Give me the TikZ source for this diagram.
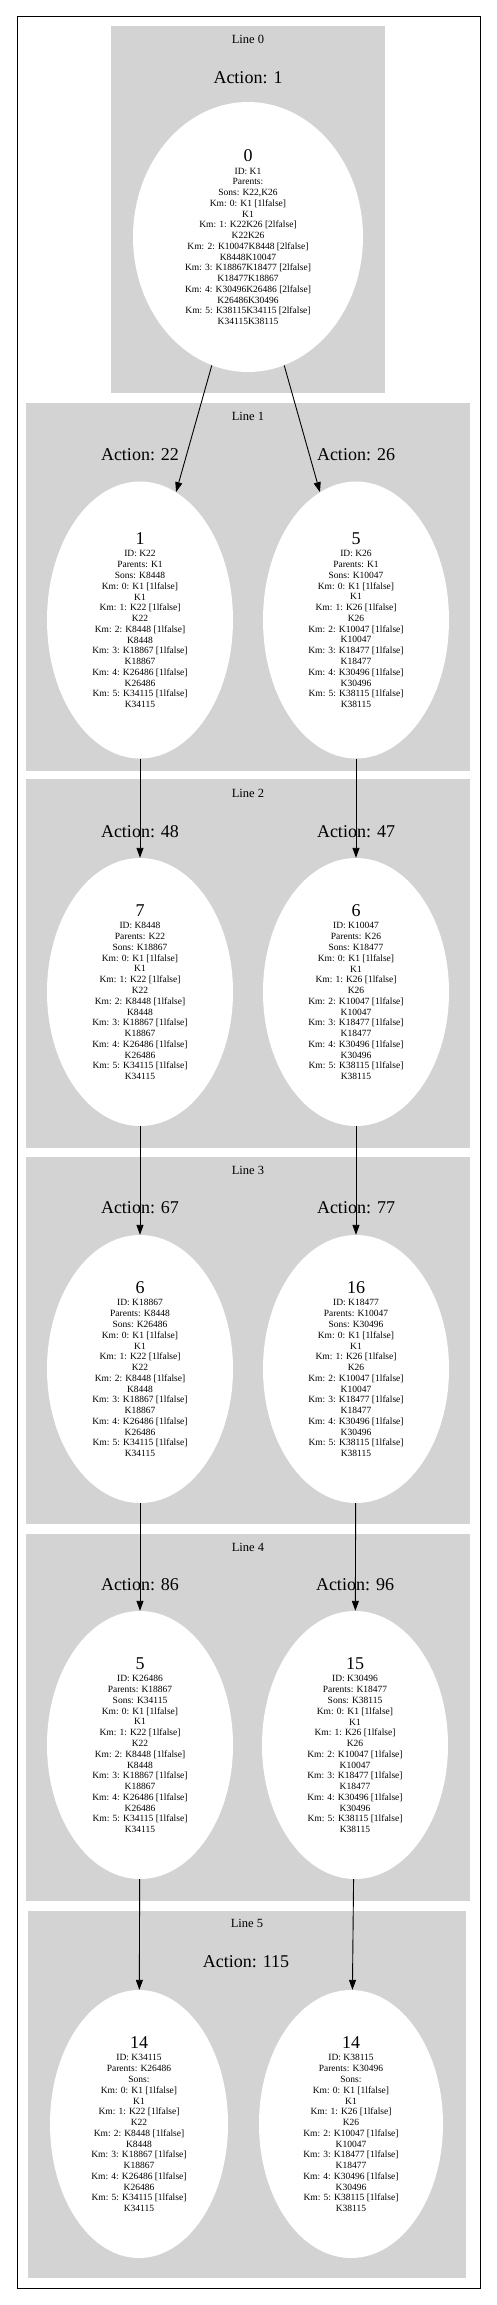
\documentclass[tikz,border=0pt]{standalone}
\usepackage{fontspec}
\setmainfont{Liberation Serif}
\usetikzlibrary{shapes.geometric, arrows.meta, positioning}
\definecolor{clustergray}{HTML}{D3D3D3}
\newcommand{\snum}[1]{{\fontsize{18}{18}\selectfont #1}\\[2pt]}
\newcommand{\kmleft}{Km: 0: K1 [1lfalse]\\K1\\Km: 1: K22 [1lfalse]\\K22\\
  Km: 2: K8448 [1lfalse]\\K8448\\Km: 3: K18867 [1lfalse]\\K18867\\
  Km: 4: K26486 [1lfalse]\\K26486\\Km: 5: K34115 [1lfalse]\\K34115}
\newcommand{\kmright}{Km: 0: K1 [1lfalse]\\K1\\Km: 1: K26 [1lfalse]\\K26\\
  Km: 2: K10047 [1lfalse]\\K10047\\Km: 3: K18477 [1lfalse]\\K18477\\
  Km: 4: K30496 [1lfalse]\\K30496\\Km: 5: K38115 [1lfalse]\\K38115}

\begin{document}
\begin{tikzpicture}[
    x=1pt, y=-1pt,
    every node/.style={font=\fontsize{9.5}{10.76}\selectfont},
    cluster/.style={fill=clustergray, draw=none},
    linelbl/.style={font=\fontsize{12.5}{14}\selectfont, inner sep=0pt},
    act/.style={font=\fontsize{18}{20}\selectfont, inner sep=0pt},
    state/.style={ellipse, fill=white, inner sep=0pt, align=center,
                  minimum width=186pt, minimum height=268pt},
    arr/.style={-{Triangle[length=10pt,width=7pt]}, line width=0.9pt}
]
    \useasboundingbox (0,0) rectangle (496,2305);
    \draw[line width=1pt] (17,16) rectangle (480,2288);

    % clusters
    \fill[cluster] (111,26)  rectangle (385,393);
    \fill[cluster] (26,403)  rectangle (470,771);
    \fill[cluster] (26,779)  rectangle (470,1148);
    \fill[cluster] (26,1157) rectangle (470,1524);
    \fill[cluster] (26,1534) rectangle (470,1901);
    \fill[cluster] (28,1911) rectangle (466,2278);

    \node[linelbl] (line0) at (248,39)   {Line 0};
    \node[linelbl] (line1) at (248,416)  {Line 1};
    \node[linelbl] (line2) at (248,793)  {Line 2};
    \node[linelbl] (line3) at (248,1170) {Line 3};
    \node[linelbl] (line4) at (248,1547) {Line 4};
    \node[linelbl] (line5) at (247,1923) {Line 5};

    \node[act] (act1)   at (248,78)   {Action: 1};
    \node[act] (act22)  at (140,455)  {Action: 22};
    \node[act] (act26)  at (356,455)  {Action: 26};
    \node[act] (act48)  at (140,832)  {Action: 48};
    \node[act] (act47)  at (356,832)  {Action: 47};
    \node[act] (act67)  at (140,1208) {Action: 67};
    \node[act] (act77)  at (356,1208) {Action: 77};
    \node[act] (act86)  at (140,1585) {Action: 86};
    \node[act] (act96)  at (355,1585) {Action: 96};
    \node[act] (act115) at (246,1962) {Action: 115};

    \node[state, minimum width=230pt, minimum height=270pt] (k1) at (248,237)
        {\snum{0}ID: K1\\Parents: \\Sons: K22,K26\\Km: 0: K1 [1lfalse]\\K1\\
         Km: 1: K22K26 [2lfalse]\\K22K26\\Km: 2: K10047K8448 [2lfalse]\\K8448K10047\\
         Km: 3: K18867K18477 [2lfalse]\\K18477K18867\\Km: 4: K30496K26486 [2lfalse]\\
         K26486K30496\\Km: 5: K38115K34115 [2lfalse]\\K34115K38115};
    \node[state, minimum height=277pt] (k22) at (140,620)
        {\snum{1}ID: K22\\Parents: K1\\Sons: K8448\\\kmleft};
    \node[state, minimum height=277pt] (k26) at (356,620)
        {\snum{5}ID: K26\\Parents: K1\\Sons: K10047\\\kmright};
    \node[state] (k8448) at (140,992)
        {\snum{7}ID: K8448\\Parents: K22\\Sons: K18867\\\kmleft};
    \node[state] (k10047) at (356,992)
        {\snum{6}ID: K10047\\Parents: K26\\Sons: K18477\\\kmright};
    \node[state] (k18867) at (140,1369)
        {\snum{6}ID: K18867\\Parents: K8448\\Sons: K26486\\\kmleft};
    \node[state] (k18477) at (356,1369)
        {\snum{16}ID: K18477\\Parents: K10047\\Sons: K30496\\\kmright};
    \node[state] (k26486) at (140,1745)
        {\snum{5}ID: K26486\\Parents: K18867\\Sons: K34115\\\kmleft};
    \node[state] (k30496) at (355,1745)
        {\snum{15}ID: K30496\\Parents: K18477\\Sons: K38115\\\kmright};
    \node[state, minimum width=178pt] (k34115) at (139,2124)
        {\snum{14}ID: K34115\\Parents: K26486\\Sons: \\\kmleft};
    \node[state, minimum width=184pt] (k38115) at (351,2124)
        {\snum{14}ID: K38115\\Parents: K30496\\Sons: \\\kmright};

    \draw[arr] (k1) -- (k22);
    \draw[arr] (k1) -- (k26);
    \draw[arr] (k22) -- (k8448);
    \draw[arr] (k26) -- (k10047);
    \draw[arr] (k8448) -- (k18867);
    \draw[arr] (k10047) -- (k18477);
    \draw[arr] (k18867) -- (k26486);
    \draw[arr] (k18477) -- (k30496);
    \draw[arr] (k26486) -- (k34115);
    \draw[arr] (k30496) -- (k38115);
\end{tikzpicture}
\end{document}
